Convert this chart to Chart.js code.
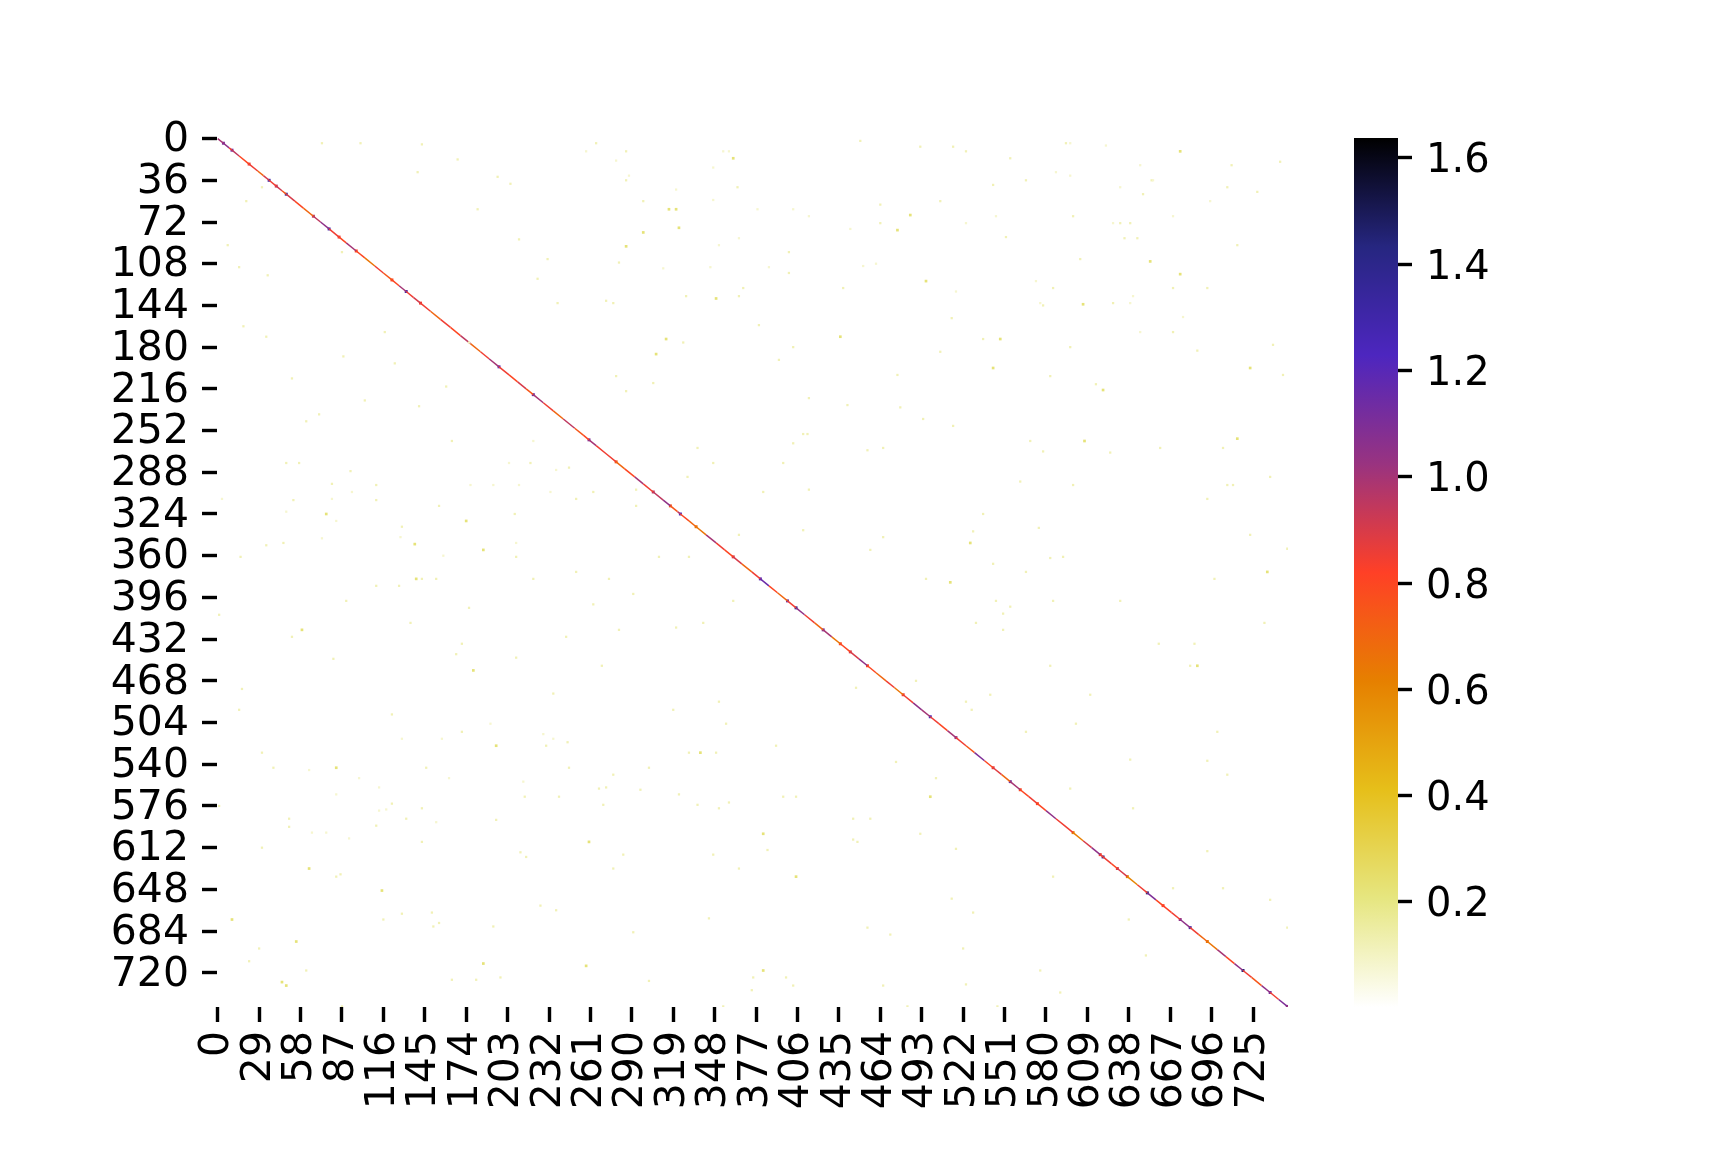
<!DOCTYPE html>
<html>
<head>
<meta charset="utf-8">
<title>Heatmap</title>
<script src="https://cdn.jsdelivr.net/npm/chart.js@4/dist/chart.umd.min.js"></script>
<style>
  html, body { margin: 0; padding: 0; background: #fff; }
  canvas { position: absolute; left: 0; top: 0; }
</style>
</head>
<body>
<canvas id="heat" width="1728" height="1152"></canvas>
<canvas id="bar" width="1728" height="1152"></canvas>
<script>
// axis ticks
const xTickLabels = [0,29,58,87,116,145,174,203,232,261,290,319,348,377,406,435,464,493,522,551,580,609,638,667,696,725];
const yTickLabels = [0,36,72,108,144,180,216,252,288,324,360,396,432,468,504,540,576,612,648,684,720];
const barTickLabels = [0.2,0.4,0.6,0.8,1.0,1.2,1.4,1.6];
const cellCount = 750;
const valueMin = 0.0024;
const valueMax = 1.6376;

// CMRmap_r
const cmapStops = [0,0.125,0.25,0.375,0.5,0.625,0.75,0.875,1];
const cmapReds = [255,230,230,230,255,153,77,38,0];
const cmapGreens = [255,230,191,128,64,51,38,38,0];
const cmapBlues = [255,128,26,0,38,128,191,128,0];

// diagonal: cell index and value
const diagCells = [0,4,8,10,15,22,28,32,36,41,45,48,54,60,67,72,78,85,90,97,103,110,116,122,127,132,137,142,149,
  156,163,170,177,184,190,197,204,210,216,221,228,235,242,
  250,256,260,265,272,279,285,292,298,305,312,317,322,324,330,335,342,349,355,361,367,374,380,386,392,399,405,411,418,424,430,436,443,449,455,461,468,474,480,487,493,499,
  505,511,517,524,530,537,543,549,555,562,568,574,580,587,593,599,606,612,618,620,626,630,637,644,651,657,662,668,674,681,687,693,700,706,712,718,724,731,737,743,749];
const diagValues = [1.0,1.05,0.85,0.95,0.8,0.85,0.7,0.9,0.85,0.92,0.75,0.9,0.8,0.7,0.95,1.05,0.85,0.8,1.0,0.8,0.65,0.85,0.75,0.8,1.0,0.85,0.9,0.85,0.7,
  0.85,0.8,0.95,0.7,0.85,1.0,0.85,0.8,0.9,0.75,1.0,0.85,0.7,0.95,
  0.75,0.8,1.0,0.85,0.85,0.7,0.8,1.0,0.85,0.95,1.05,0.75,0.95,0.8,0.7,0.65,1.0,0.85,0.8,0.9,0.7,0.85,1.15,0.8,0.7,0.85,1.05,0.85,0.7,1.0,0.65,0.8,0.9,1.05,0.8,0.7,0.85,0.65,0.85,1.05,1.0,0.85,
  0.8,1.0,0.85,0.75,1.1,0.8,0.88,0.7,1.0,0.8,0.85,0.8,1.05,0.85,0.85,0.62,0.9,1.05,0.85,0.85,0.8,0.9,0.6,0.85,1.1,0.8,0.82,0.85,1.05,0.85,0.7,0.65,1.0,0.8,1.05,0.85,0.75,1.05,0.85,1.1,1.0];
const accentCells = [4,10,22,36,41,48,67,78,85,97,122,132,142,197,221,260,279,305,317,324,335,361,380,399,405,424,436,443,455,480,499,517,543,555,562,574,599,618,620,630,637,651,662,674,681,693,718,737,749];
const accentValues = [1.1,1.15,0.85,1.3,0.92,1.35,0.95,1.3,0.85,0.8,0.8,1.3,0.85,1.2,1.15,1.1,0.75,0.95,0.75,1.25,0.65,0.9,1.2,1.15,1.4,1.1,0.8,0.9,0.8,0.85,1.25,1.05,0.88,1.15,0.8,0.8,0.62,0.85,1.4,0.9,0.6,1.45,0.82,1.05,1.3,0.65,1.45,1.12,1.0];

// off-diagonal speckles, strongest ones, lighter ones, then the faintest
const brightValue = 0.22;
const brightCols = [361,323,349,436,485,476,496,314,307,298,286,316,321,674,606,543,723,620,674,653,548,76,138,186,174,59,179,139,607,714,735,527,513,686,83,195,10,64,115,186,45,48,55,338,260,258,405,499,382,382];
const brightRows = [17,77,138,171,66,79,123,173,186,81,93,61,61,11,143,198,198,217,117,106,173,324,350,355,330,424,459,380,261,259,374,349,383,455,543,524,674,630,649,712,728,731,693,530,607,714,637,568,718,600];
const lightValue = 0.12;
const lightCols = [265,286,286,298,364,464,464,400,400,365,277,272,326,403,379,476,279,305,286,441,478,494,414,393,328,368,438,281,492,450,
  594,515,524,555,654,566,707,710,744,543,506,648,728,632,639,599,552,635,644,714,604,669,693,585,578,627,514,536,506,597,746,583,615,686,739,515,669,
  164,57,48,93,80,111,53,111,155,208,129,34,46,209,16,143,153,221,111,127,176,90,135,52,244,171,167,17,15,122,235,81,219,246,1,209,
  410,413,403,455,466,347,396,336,382,414,293,329,263,251,293,496,274,291,361,263,281,340,269,319,351,309,330,251,489,447,321,410,365,457,466,
  569,660,704,625,578,599,707,711,737,562,693,536,575,529,723,592,583,543,566,698,585,545,632,555,550,531,550,684,659,583,681,541,524,611,733,749,528,
  171,230,246,245,146,31,39,132,143,122,1,31,86,83,50,50,111,195,239,215,116,129,150,193,151,155,29,22,198,62,164,181,87,216,212,143,226,237,
  330,349,302,277,267,272,296,270,284,347,277,365,385,396,405,445,457,445,448,336,358,351,323,455,471,291,344,375,398,403,466,302,354,483,391,356,492,475,374,
  707,514,693,585,669,590,546,529,566,601,700,503,522,576,650,737,517,693,524,638,597,639,749,641,704,
  73,143,31,15,20,35,87,140,100,7,
  168,182,196,211,224,238,160,176,205,231,18,34,52,71,88,103,124,141,62,117];
const lightRows = [4,11,36,54,42,57,73,98,116,136,142,140,176,180,161,204,205,211,218,230,232,242,224,191,136,129,129,107,7,2,
  4,7,11,17,36,36,42,23,20,40,54,48,46,73,73,67,85,86,86,92,104,129,129,129,144,142,155,173,184,180,204,205,212,183,178,248,167,
  261,280,280,287,298,299,312,312,317,324,335,351,349,361,361,380,380,380,386,386,405,399,418,430,430,436,445,475,493,497,479,449,280,284,411,448,
  255,255,263,269,267,280,280,267,305,303,303,292,305,311,317,380,380,393,399,402,424,418,455,493,486,361,361,374,468,474,422,338,342,355,344,
  261,267,267,271,270,299,299,299,292,296,311,324,336,339,342,361,362,367,374,380,399,399,399,404,410,418,424,436,436,455,455,480,486,480,418,354,493,
  512,524,543,521,543,530,543,587,578,574,576,612,635,637,587,594,593,588,568,568,674,669,668,680,680,677,699,710,724,718,726,726,749,620,616,607,662,666,
  530,530,543,549,561,560,562,575,618,618,630,630,614,568,568,587,587,605,607,575,573,578,566,681,687,685,673,724,724,731,731,727,749,749,524,505,600,538,735,
  549,656,537,637,647,737,749,668,512,505,512,552,699,718,705,657,613,615,730,674,561,536,681,578,647,
  4,5,42,111,54,118,98,29,4,92,
  18,61,33,87,121,142,214,176,39,104,162,171,207,238,188,226,194,231,244,167];
const faintValue = 0.08;
const faintCols = [354,358,258,279,347,288,321,347,378,403,414,443,365,351,312,345,386,452,461,
  597,622,646,587,655,632,597,524,545,627,669,695,573,517,641,576,639,676,646,
  204,221,237,193,177,94,80,3,48,211,233,83,73,128,209,158,
  129,235,157,228,191,99,64,162,214,113,83,113,118,153,66,76,92];
const faintRows = [11,11,11,19,25,32,44,53,61,61,67,78,86,92,112,111,111,110,108,
  4,6,23,29,36,42,32,73,67,73,67,54,123,132,136,142,142,154,167,
  280,261,286,299,299,305,311,311,322,299,305,330,345,344,349,360,
  518,518,518,514,505,552,545,552,555,560,566,580,579,590,599,599,604];

function colorFor(value) {
  const t = Math.min(1, Math.max(0, (value - valueMin) / (valueMax - valueMin)));
  let i = 0;
  while (i < cmapStops.length - 2 && t > cmapStops[i + 1]) i++;
  const f = (t - cmapStops[i]) / (cmapStops[i + 1] - cmapStops[i]);
  const mix = c => Math.round(c[i] + (c[i + 1] - c[i]) * f);
  return `rgb(${mix(cmapReds)},${mix(cmapGreens)},${mix(cmapBlues)})`;
}

const cellPoints = (cols, rows) => cols.map((c, i) => ({ x: c + 0.5, y: rows[i] + 0.5 }));
const speckle = (cols, rows, value, radius) => ({
  data: cellPoints(cols, rows),
  pointStyle: 'rect', pointRadius: radius, pointBorderWidth: 0,
  pointBackgroundColor: colorFor(value),
});
const tickFont = { family: '"DejaVu Sans"', size: 41 };

// the empty first line pushes the tick text down a little, lineHeight sets how far
new Chart(document.getElementById('heat'), {
  type: 'scatter',
  data: {
    datasets: [
      speckle(faintCols, faintRows, faintValue, 1.6),
      speckle(lightCols, lightRows, lightValue, 1.6),
      speckle(brightCols, brightRows, brightValue, 1.9),
      {
        data: cellPoints(diagCells, diagCells),
        showLine: true, pointRadius: 0, borderWidth: 1.5,
        segment: { borderColor: ctx => colorFor(diagValues[ctx.p0DataIndex]) },
      },
      {
        data: cellPoints(accentCells, accentCells),
        pointStyle: 'rect', pointRadius: 2.1, pointBorderWidth: 0,
        pointBackgroundColor: accentValues.map(colorFor),
      },
    ],
  },
  options: {
    responsive: false,
    animation: false,
    layout: { padding: { left: 0, right: 440, top: 138, bottom: 0 } },
    plugins: { legend: { display: false }, tooltip: { enabled: false } },
    scales: {
      x: {
        type: 'linear', min: 0, max: cellCount,
        border: { display: false },
        grid: { drawOnChartArea: false, color: '#000', tickLength: 15, tickWidth: 3.4 },
        ticks: {
          color: '#000', font: tickFont, padding: 9, autoSkip: false, minRotation: 90, maxRotation: 90,
          callback: (v, i) => xTickLabels[i],
        },
        afterBuildTicks: axis => { axis.ticks = xTickLabels.map(v => ({ value: v + 0.5 })); },
        afterFit: axis => { axis.height = 145; },
      },
      y: {
        type: 'linear', min: 0, max: cellCount, reverse: true,
        border: { display: false },
        grid: { drawOnChartArea: false, color: '#000', tickLength: 15, tickWidth: 3.4 },
        ticks: {
          color: '#000', font: { ...tickFont, lineHeight: 0.1 }, padding: 13, autoSkip: false,
          callback: (v, i) => ['', String(yTickLabels[i])],
        },
        afterBuildTicks: axis => { axis.ticks = yTickLabels.map(v => ({ value: v + 0.5 })); },
        afterFit: axis => { axis.width = 217; },
      },
    },
  },
});

new Chart(document.getElementById('bar'), {
  type: 'bar',
  data: {
    labels: ['colorbar'],
    datasets: [{
      data: [[valueMin, valueMax]],
      barPercentage: 1, categoryPercentage: 1, borderWidth: 0,
      backgroundColor: ctx => {
        const area = ctx.chart.chartArea;
        if (!area) return '#fff';
        const g = ctx.chart.ctx.createLinearGradient(0, area.bottom, 0, area.top);
        cmapStops.forEach((s, i) => g.addColorStop(s, `rgb(${cmapReds[i]},${cmapGreens[i]},${cmapBlues[i]})`));
        return g;
      },
    }],
  },
  options: {
    responsive: false,
    animation: false,
    layout: { padding: { left: 1354, right: 0, top: 138, bottom: 145 } },
    plugins: { legend: { display: false }, tooltip: { enabled: false } },
    scales: {
      x: { display: false },
      y: {
        position: 'right', min: valueMin, max: valueMax,
        border: { display: false },
        grid: { drawOnChartArea: false, color: '#000', tickLength: 14, tickWidth: 3.4 },
        ticks: {
          color: '#000', font: { family: '"DejaVu Sans"', size: 40, lineHeight: 0.2 }, padding: 14, autoSkip: false,
          callback: (v, i) => ['', barTickLabels[i].toFixed(1)],
        },
        afterBuildTicks: axis => { axis.ticks = barTickLabels.map(v => ({ value: v })); },
        afterFit: axis => { axis.width = 330; },
      },
    },
  },
});
</script>
</body>
</html>
